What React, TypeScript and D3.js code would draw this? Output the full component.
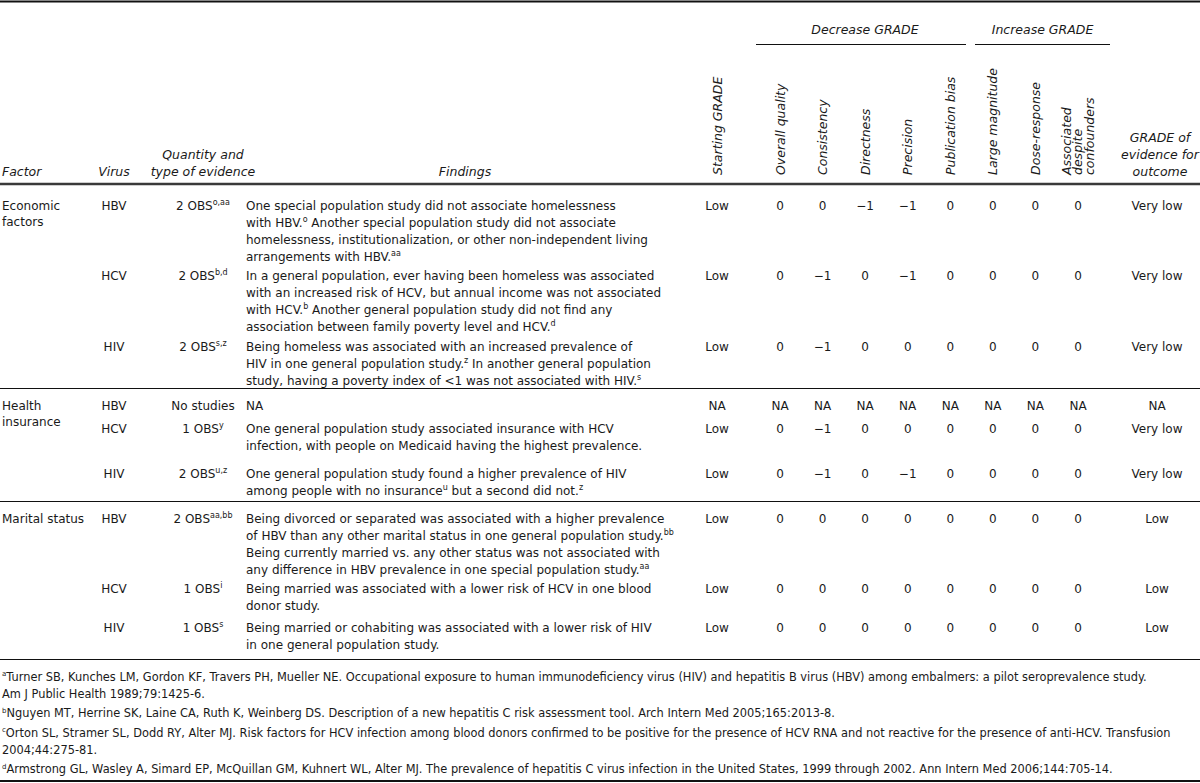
import * as d3 from "d3";

// ---- table content -------------------------------------------------------
const gradeCols = [
  "Overall quality",
  "Consistency",
  "Directness",
  "Precision",
  "Publication bias",
  "Large magnitude",
  "Dose-response",
  "Associated despite confounders",
];

const factors = [["Economic", "factors"], ["Health", "insurance"], ["Marital status"]];
const viruses = ["HBV", "HCV", "HIV"];

const quantity = [
  ["2 OBS^{o,aa}", "2 OBS^{b,d}", "2 OBS^{s,z}"],
  ["No studies", "1 OBS^{y}", "2 OBS^{u,z}"],
  ["2 OBS^{aa,bb}", "1 OBS^{i}", "1 OBS^{s}"],
];

const findings = [
  [
    [
      "One special population study did not associate homelessness",
      "with HBV.^{o} Another special population study did not associate",
      "homelessness, institutionalization, or other non-independent living",
      "arrangements with HBV.^{aa}",
    ],
    [
      "In a general population, ever having been homeless was associated",
      "with an increased risk of HCV, but annual income was not associated",
      "with HCV.^{b} Another general population study did not find any",
      "association between family poverty level and HCV.^{d}",
    ],
    [
      "Being homeless was associated with an increased prevalence of",
      "HIV in one general population study.^{z} In another general population",
      "study, having a poverty index of <1 was not associated with HIV.^{s}",
    ],
  ],
  [
    ["NA"],
    [
      "One general population study associated insurance with HCV",
      "infection, with people on Medicaid having the highest prevalence.",
    ],
    [
      "One general population study found a higher prevalence of HIV",
      "among people with no insurance^{u} but a second did not.^{z}",
    ],
  ],
  [
    [
      "Being divorced or separated was associated with a higher prevalence",
      "of HBV than any other marital status in one general population study.^{bb}",
      "Being currently married vs. any other status was not associated with",
      "any difference in HBV prevalence in one special population study.^{aa}",
    ],
    [
      "Being married was associated with a lower risk of HCV in one blood",
      "donor study.",
    ],
    [
      "Being married or cohabiting was associated with a lower risk of HIV",
      "in one general population study.",
    ],
  ],
];

const startGrade = [["Low", "Low", "Low"], ["NA", "Low", "Low"], ["Low", "Low", "Low"]];

const gradeValues = [
  [
    ["0", "0", "−1", "−1", "0", "0", "0", "0"],
    ["0", "−1", "0", "−1", "0", "0", "0", "0"],
    ["0", "−1", "0", "0", "0", "0", "0", "0"],
  ],
  [
    ["NA", "NA", "NA", "NA", "NA", "NA", "NA", "NA"],
    ["0", "−1", "0", "0", "0", "0", "0", "0"],
    ["0", "−1", "0", "−1", "0", "0", "0", "0"],
  ],
  [
    ["0", "0", "0", "0", "0", "0", "0", "0"],
    ["0", "0", "0", "0", "0", "0", "0", "0"],
    ["0", "0", "0", "0", "0", "0", "0", "0"],
  ],
];

const outcome = [["Very low", "Very low", "Very low"], ["NA", "Very low", "Very low"], ["Low", "Low", "Low"]];

const footnotes = [
  [
    "^{a}Turner SB, Kunches LM, Gordon KF, Travers PH, Mueller NE. Occupational exposure to human immunodeficiency virus (HIV) and hepatitis B virus (HBV) among embalmers: a pilot seroprevalence study.",
    "Am J Public Health 1989;79:1425-6.",
  ],
  ["^{b}Nguyen MT, Herrine SK, Laine CA, Ruth K, Weinberg DS. Description of a new hepatitis C risk assessment tool. Arch Intern Med 2005;165:2013-8."],
  [
    "^{c}Orton SL, Stramer SL, Dodd RY, Alter MJ. Risk factors for HCV infection among blood donors confirmed to be positive for the presence of HCV RNA and not reactive for the presence of anti-HCV. Transfusion",
    "2004;44:275-81.",
  ],
  ["^{d}Armstrong GL, Wasley A, Simard EP, McQuillan GM, Kuhnert WL, Alter MJ. The prevalence of hepatitis C virus infection in the United States, 1999 through 2002. Ann Intern Med 2006;144:705-14."],
];

// ---- layout --------------------------------------------------------------
const W = 1200;
const H = 783;
const FONT = "'DejaVu Sans', sans-serif";
const FS = 12;
const HEAD_FS = 12.5;
const LH = 17;
const INK = "#1a1a1a";

// vertical space per row: first line to first line of the next row (last = to the rule)
const rowSpace = [
  [70, 71, 42],
  [23, 45, 28],
  [70, 39, 32],
];

const X_FACTOR = 2;
const X_VIRUS = 114;
const X_QTY = 203;
const X_FIND = 246;
const X_START = 717;
const X_OUT = 1157;

const colX = d3.scalePoint<string>().domain(gradeCols).range([780, 1078]);

// "text^{sup}" -> tspans
function Rich({ s, supSize = 8 }: { s: string; supSize?: number }) {
  const parts = s.split(/(\^\{[^}]*\})/).filter(p => p.length);
  return (
    <>
      {parts.map((p, i) =>
        p.startsWith("^{") ? (
          <tspan key={i} fontSize={supSize} dy={-4.5}>{p.slice(2, -1)}</tspan>
        ) : (
          <tspan key={i} dy={i > 0 && parts[i - 1].startsWith("^{") ? 4.5 : 0}>{p}</tspan>
        )
      )}
    </>
  );
}

export default function App() {
  const headerLine = 184;
  let y = headerLine + 21;
  const groups: { rows: { y: number; r: number }[]; sep: number }[] = [];
  factors.forEach((_, g) => {
    const rows: { y: number; r: number }[] = [];
    viruses.forEach((__, r) => {
      rows.push({ y, r });
      y += rowSpace[g][r];
    });
    groups.push({ rows, sep: y });
    y += 17;
  });

  const footY: number[] = [];
  let fy = groups[2].sep + 17;
  footnotes.forEach(f => {
    footY.push(fy);
    fy += f.length * LH + 2.5;
  });

  const base = 4.5; // center -> baseline

  const decStart = 756, decEnd = 966, incStart = 975, incEnd = 1110;

  return (
    <svg
      width={W}
      height={H}
      style={{ position: "absolute", left: 0, top: 0, background: "#fff" }}
      fontFamily={FONT}
      fontSize={FS}
      fill={INK}
    >
      <rect width={W} height={H} fill="#fff" />
      {/* top rule */}
      <line x1={0} x2={W} y1={1.5} y2={1.5} stroke="#111" strokeWidth={2} />

      {/* spanner headers */}
      <g fontStyle="italic" fontSize={HEAD_FS}>
        <text x={(decStart + decEnd) / 2 + 4} y={34} textAnchor="middle">Decrease GRADE</text>
        <text x={(incStart + incEnd) / 2} y={34} textAnchor="middle">Increase GRADE</text>
      </g>
      <line x1={decStart} x2={decEnd} y1={44.5} y2={44.5} stroke="#111" strokeWidth={1} />
      <line x1={incStart} x2={incEnd} y1={44.5} y2={44.5} stroke="#111" strokeWidth={1} />

      {/* column headers */}
      <g fontStyle="italic" fontSize={HEAD_FS}>
        <text x={X_FACTOR} y={176}>Factor</text>
        <text x={X_VIRUS} y={176} textAnchor="middle">Virus</text>
        <text x={X_QTY} y={159} textAnchor="middle">Quantity and</text>
        <text x={X_QTY} y={176} textAnchor="middle">type of evidence</text>
        <text x={465} y={176} textAnchor="middle">Findings</text>
        <text transform={`translate(${X_START + 4.5},175) rotate(-90)`}>Starting GRADE</text>
        {gradeCols.map(c => {
          const cx = colX(c)!;
          if (c.startsWith("Associated")) {
            return ["Associated", "despite", "confounders"].map((w, i) => (
              <text key={c + i} transform={`translate(${cx - 7.5 + i * 11.5},175) rotate(-90)`}>{w}</text>
            ));
          }
          return (
            <text key={c} transform={`translate(${cx + 4.5},175) rotate(-90)`}>{c}</text>
          );
        })}
        {["GRADE of", "evidence for", "outcome"].map((t, i) => (
          <text key={t} x={X_OUT + 3} y={142 + i * LH} textAnchor="middle">{t}</text>
        ))}
      </g>
      <line x1={0} x2={W} y1={headerLine} y2={headerLine} stroke="#3a3a3a" strokeWidth={2.5} />

      {/* body */}
      {groups.map((grp, g) => (
        <g key={g}>
          {factors[g].map((t, i) => (
            <text key={t} x={X_FACTOR} y={grp.rows[0].y + base + i * 16}>{t}</text>
          ))}
          {grp.rows.map(({ y: ry, r }) => (
            <g key={r}>
              <text x={X_VIRUS} y={ry + base} textAnchor="middle">{viruses[r]}</text>
              <text x={X_QTY} y={ry + base} textAnchor="middle"><Rich s={quantity[g][r]} /></text>
              {findings[g][r].map((line, li) => (
                <text key={li} x={X_FIND} y={ry + base + li * LH}><Rich s={line} /></text>
              ))}
              <text x={X_START} y={ry + base} textAnchor="middle">{startGrade[g][r]}</text>
              {gradeValues[g][r].map((v, ci) => (
                <text key={ci} x={colX(gradeCols[ci])!} y={ry + base} textAnchor="middle">{v}</text>
              ))}
              <text x={X_OUT} y={ry + base} textAnchor="middle">{outcome[g][r]}</text>
            </g>
          ))}
          <line x1={0} x2={W} y1={grp.sep + 0.5} y2={grp.sep + 0.5} stroke="#111" strokeWidth={1} />
        </g>
      ))}

      {/* footnotes */}
      <g fontSize={11.4}>
        {footnotes.map((f, i) =>
          f.map((line, li) => (
            <text key={i + "-" + li} x={X_FACTOR} y={footY[i] + base + li * LH}><Rich s={line} supSize={7} /></text>
          ))
        )}
      </g>
      <line x1={0} x2={W} y1={781} y2={781} stroke="#111" strokeWidth={2} />
    </svg>
  );
}
